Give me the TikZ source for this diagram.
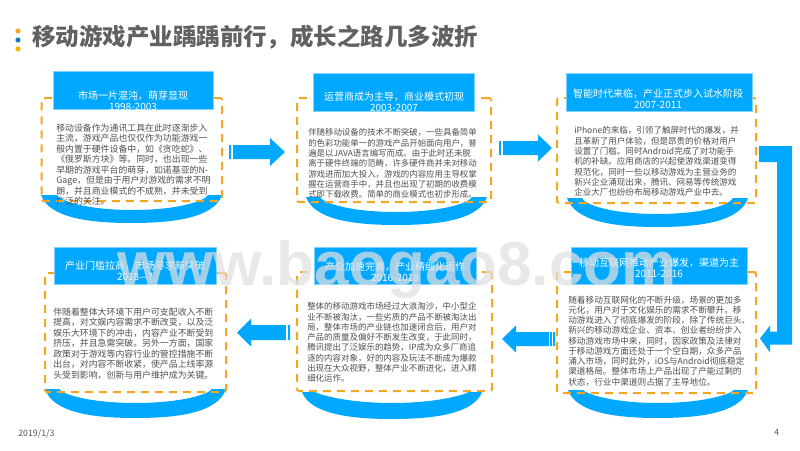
\documentclass[tikz,border=0pt]{standalone}
\usepackage{fontspec}
\setmainfont{Noto Sans CJK SC}
\usetikzlibrary{calc,fit}
\definecolor{skyblue}{HTML}{00A9FF}
\definecolor{edgeblue}{HTML}{7FD4FF}
\definecolor{dashorange}{HTML}{F5A623}
\definecolor{bodygray}{HTML}{505050}
\definecolor{markgray}{HTML}{E0E0E0}
\definecolor{dotblue}{HTML}{0A7CC4}
\definecolor{dotyellow}{HTML}{FFB300}
\newcommand{\zc}{^^^^ff0c}
\tikzset{
  dashbox/.style={draw=dashorange,line width=1.5pt,dash pattern=on 6pt off 4.5pt,rounded corners=1.5pt,inner sep=0pt},
  headbox/.style={fill=skyblue,draw=edgeblue,line width=.4pt,inner sep=0pt},
  crescent/.style={fill=skyblue,draw=none},
  blockfill/.style={fill=skyblue,draw=none},
  titletext/.style={text=white,align=center,inner sep=0pt,font=\fontsize{7.5}{8.6}\selectfont},
  bodytext/.style={text=bodygray,align=left,inner sep=0pt,anchor=north west},
}
% crescent: x1 x2 top bottom inner innerx1 innerx2
\newcommand{\crescentshape}[7]{%
  \fill[crescent] (#1,#3) .. controls ({#1+8},{#4-6}) and ({#1+45},#4) .. ({(#1+#2)/2},#4)
    .. controls ({#2-45},#4) and ({#2-8},{#4-6}) .. (#2,#3) -- (#7,#3)
    .. controls ({#7-3},{#5-9}) and ({#7-30},#5) .. ({(#6+#7)/2},#5)
    .. controls ({#6+30},#5) and ({#6+3},{#5-9}) .. (#6,#3) -- cycle;}
% start, tip, half shaft, signed head length, half head
\newcommand{\blockarrow}[5]{%
  \fill[blockfill] ($(#1)+(0,-#3)$) -- ($(#2)+(-#4,-#3)$) -- ($(#2)+(-#4,-#5)$) -- (#2)
    -- ($(#2)+(-#4,#5)$) -- ($(#2)+(-#4,#3)$) -- ($(#1)+(0,#3)$) -- cycle;}
% white slit across a shaft: start, from, to, half height
\newcommand{\slit}[4]{\fill[white] ($(#1)+(#2,-#4)$) rectangle ($(#1)+(#3,#4)$);}
\begin{document}
\begin{tikzpicture}[x=0.75pt,y=-0.75pt]
\useasboundingbox (0,0) rectangle (800,450);
\fill[white] (0,0) rectangle (800,450);
% bullets and title
\fill[dashorange] (18,31) circle (2.6);
\fill[dotblue] (18,40) circle (2.6);
\fill[dotyellow] (18,49) circle (2.6);
\node[anchor=west,inner sep=0pt,text=black!62,font=\fontsize{17.6}{20}\selectfont\bfseries] (maintitle) at (32,37) {移动游戏产业踽踽前行\zc 成长之路几多波折};
% crescents
\crescentshape{41}{222}{195}{223}{210}{57}{208}
\crescentshape{306}{487}{197}{225}{212}{320}{472}
\crescentshape{567}{748}{198}{227}{214}{582}{733}
\crescentshape{45}{226}{389}{418}{403}{59}{212}
\crescentshape{302}{482}{392}{419}{403}{315}{469}
\crescentshape{568}{748}{390}{418}{403}{583}{734}
% dashed frames
\node[dashbox,fit={(41.5,98)(222,201)}] (b1) {};
\node[dashbox,fit={(297,98)(491,202)}] (b2) {};
\node[dashbox,fit={(557,98)(756,203)}] (b3) {};
\node[dashbox,fit={(45,273)(226,392)}] (b4) {};
\node[dashbox,fit={(297,272)(492,391)}] (b5) {};
\node[dashbox,fit={(557,272)(756,393)}] (b6) {};
% headers
\node[headbox,fit={(53,71)(213,109)}] (h1) {};
\node[headbox,fit={(313,73)(474,111)}] (h2) {};
\node[headbox,fit={(566,73)(752,111)}] (h3) {};
\node[headbox,fit={(54,247)(216,284)}] (h4) {};
\node[headbox,fit={(314,247)(476,284)}] (h5) {};
\node[headbox,fit={(571,247)(747,284)}] (h6) {};
% header text
\node[titletext] (t1) at (133,101) {市场一片混沌\zc 萌芽显现\\1998-2003};
\node[titletext] (t2) at (394,102) {运营商成为主导\zc 商业模式初现\\2003-2007};
\node[titletext] (t3) at (658,99) {智能时代来临\zc 产业正式步入试水阶段\\2007-2011};
\node[titletext] (t4) at (135,271) {产业门槛拉高\zc 市场寻求新突破\\2018—?};
\node[titletext] (t5) at (395,272) {产业加速完善\zc 产业精细化运作\\2016-2018};
\node[titletext] (t6) at (659,268) {移动互联网推动产业爆发\zc 渠道为主\\2011-2016};
% body text
\node[bodytext,font=\fontsize{6.67}{7.85}\selectfont] (p1) at (56,123.5) {移动设备作为通讯工具在此时逐渐步入\\主流\zc 游戏产品也仅仅作为功能游戏一\\般内置于硬件设备中\zc 如《贪吃蛇》、\\《俄罗斯方块》等。同时\zc 也出现一些\\早期的游戏平台的萌芽\zc 如诺基亚的N-\\Gage\zc 但是由于用户对游戏的需求不明\\朗\zc 并且商业模式的不成熟\zc 并未受到\\广泛的关注。};
\node[bodytext,font=\fontsize{6.32}{7.75}\selectfont] (p2) at (308,128.5) {伴随移动设备的技术不断突破\zc 一些具备简单\\的色彩功能单一的游戏产品开始面向用户\zc 普\\遍是以JAVA语言编写而成。由于此时还未脱\\离于硬件终端的范畴\zc 许多硬件商并未对移动\\游戏进而加大投入\zc 游戏的内容应用主导权掌\\握在运营商手中\zc 并且也出现了初期的收费模\\式即下载收费。简单的商业模式也初步形成。};
\node[bodytext,font=\fontsize{6.4}{7.75}\selectfont] (p3) at (574,126.5) {iPhone的来临\zc 引领了触屏时代的爆发\zc 并\\且革新了用户体验\zc 但是昂贵的价格对用户\\设置了门槛。同时Android完成了对功能手\\机的补缺。应用商店的兴起使游戏渠道变得\\规范化\zc 同时一些以移动游戏为主营业务的\\新兴企业涌现出来\zc 腾讯、网易等传统游戏\\企业大厂也纷纷布局移动游戏产业中去。};
\node[bodytext,font=\fontsize{6.67}{7.85}\selectfont] (p4) at (53,307.5) {伴随着整体大环境下用户可支配收入不断\\提高\zc 对文娱内容需求不断改变\zc 以及泛\\娱乐大环境下的冲击\zc 内容产业不断受到\\挤压\zc 并且急需突破。另外一方面\zc 国家\\政策对于游戏等内容行业的管控措施不断\\出台\zc 对内容不断收紧\zc 使产品上线率源\\头受到影响\zc 创新与用户维护成为关键。};
\node[bodytext,font=\fontsize{6.35}{7.68}\selectfont] (p5) at (307,302.5) {整体的移动游戏市场经过大浪淘沙\zc 中小型企\\业不断被淘汰\zc 一些劣质的产品不断被淘汰出\\局\zc 整体市场的产业链也加速闭合后\zc 用户对\\产品的质量及偏好不断发生改变\zc 于此同时\zc \\腾讯提出了泛娱乐的趋势\zc IP成为众多厂商追\\逐的内容对象\zc 好的内容及玩法不断成为爆款\\出现在大众视野\zc 整体产业不断进化\zc 进入精\\细化运作。};
\node[bodytext,font=\fontsize{6.5}{7.7}\selectfont] (p6) at (568,295.5) {随着移动互联网化的不断升级\zc 场景的更加多\\元化\zc 用户对于文化娱乐的需求不断攀升。移\\动游戏进入了彻底爆发的阶段\zc 除了传统巨头、\\新兴的移动游戏企业、资本、创业者纷纷步入\\移动游戏市场中来\zc 同时\zc 因家政策及法律对\\于移动游戏方面还处于一个空白期\zc 众多产品\\涌入市场\zc 同时此外\zc iOS与Android彻底稳定\\渠道格局。整体市场上产品出现了产能过剩的\\状态\zc 行业中渠道则占据了主导地位。};
% arrows between stages
\coordinate (a1s) at ($(b1.east)+(6,2.5)$);
\coordinate (a1e) at ($(b2.west |- a1s)+(-11,0)$);
\blockarrow{a1s}{a1e}{7}{15}{14}
\slit{a1s}{2.2}{4}{7.2}
\coordinate (a2s) at ($(b2.east)+(7,-2)$);
\coordinate (a2e) at ($(b3.west |- a2s)+(-4,0)$);
\blockarrow{a2s}{a2e}{7}{14}{13.5}
\slit{a2s}{2.2}{4}{7.2}
% bent arrow from stage 3 to stage 6
\coordinate (a3s) at ($(b3.east)+(2,3.5)$);
\coordinate (a3e) at ($(b6.east)+(3,6)$);
\fill[blockfill] ($(a3s)+(0,-8)$) -- ++(33,0) |- ($(a3e)+(10,6)$) -- ++(0,8) -- (a3e) -- ++(10,-13) -- ++(0,6) -- ++(7,0) |- ($(a3s)+(0,8)$) -- cycle;
\coordinate (a4s) at ($(b6.west)+(-1,6.5)$);
\coordinate (a4e) at ($(b5.east |- a4s)+(9,0)$);
\blockarrow{a4s}{a4e}{7}{-14}{13.5}
\slit{a4s}{-2}{-3.5}{7.2}
\slit{a4s}{-5}{-6.5}{7.2}
\coordinate (a5s) at ($(b5.west)+(-6,1)$);
\coordinate (a5e) at ($(b4.east |- a5s)+(10,0)$);
\blockarrow{a5s}{a5e}{7.5}{-14}{14}
\slit{a5s}{-2}{-4}{7.7}
% footer
\node[anchor=west,inner sep=0pt,text=black!65,font=\fontsize{6.6}{8}\selectfont] (datemark) at (18,434) {2019/1/3};
\node[anchor=west,inner sep=0pt,text=black!65,font=\fontsize{6.6}{8}\selectfont] (pagenum) at (774,432) {4};
% watermark
\node[anchor=base west,inner sep=0pt,text=markgray,opacity=.72,font=\fontspec{Liberation Sans}\fontsize{46.5}{50}\selectfont\bfseries] (wm) at (117,285) {www.baogao8.com};
\end{tikzpicture}
\end{document}
